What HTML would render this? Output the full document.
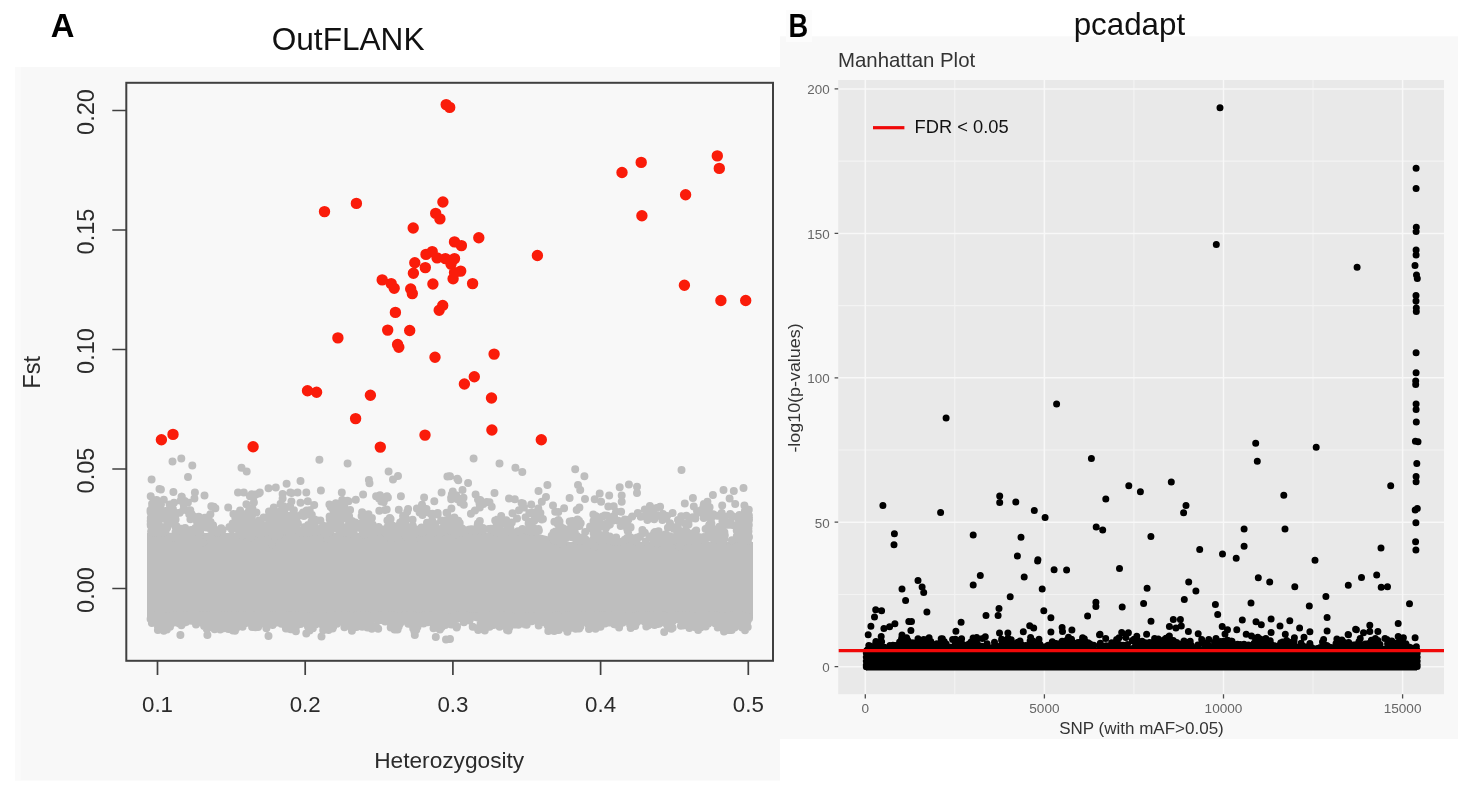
<!DOCTYPE html>
<html><head><meta charset="utf-8"><title>OutFLANK / pcadapt</title>
<style>
html,body{margin:0;padding:0;background:#fff}
body{width:1473px;height:791px;overflow:hidden}
svg{display:block;filter:blur(0.45px)}
text{font-family:"Liberation Sans",sans-serif}
</style></head><body>
<svg width="1473" height="791" viewBox="0 0 1473 791">
<rect width="1473" height="791" fill="#fff"/>
<rect x="15" y="67" width="765" height="713.6" fill="#f8f8f8"/>
<rect x="15" y="67" width="6" height="713.6" fill="#fafafa"/>
<rect x="780" y="36.3" width="678" height="702.6" fill="#f8f8f8"/>
<rect x="786" y="10" width="26" height="32" fill="#fcfcfc"/>
<g id="panelA">
<path d="M147 533L147 618L753 618L753 542L570 542L535 533Z" fill="#bebebe"/>
<path stroke="#bebebe" stroke-width="8" stroke-linecap="round" fill="none" d="M194.0 517.2h0M196.9 518.7h0M297.0 517.3h0M289.9 506.3h0M293.9 510.3h0M295.3 516.3h0M293.4 517.3h0M296.7 516.3h0M335.0 520.8h0M338.8 530.2h0M334.1 517.4h0M335.9 517.6h0M332.3 524.7h0M334.5 527.9h0M198.7 516.8h0M196.8 520.6h0M191.5 514.0h0M193.7 516.5h0M426.5 509.1h0M432.2 520.4h0M437.7 513.0h0M435.1 524.1h0M253.9 502.6h0M256.3 494.3h0M253.4 497.5h0M246.4 504.2h0M682.8 541.8h0M679.4 547.0h0M681.4 539.2h0M560.4 526.5h0M558.1 522.6h0M559.5 521.6h0M558.5 520.0h0M557.6 523.7h0M211.3 506.2h0M215.4 508.3h0M213.7 506.7h0M659.6 537.7h0M652.7 538.7h0M658.6 531.2h0M657.7 535.4h0M657.1 543.3h0M562.4 544.2h0M560.9 533.1h0M564.7 532.3h0M559.4 535.2h0M610.8 519.4h0M614.0 516.0h0M616.0 511.6h0M721.7 512.9h0M722.2 505.4h0M721.3 528.3h0M274.8 536.6h0M267.3 525.2h0M269.4 526.1h0M279.3 534.8h0M165.6 510.9h0M169.6 504.5h0M171.8 519.6h0M163.5 511.7h0M167.4 513.9h0M303.8 516.1h0M303.0 512.6h0M300.8 515.0h0M307.9 512.2h0M456.4 534.6h0M459.5 528.3h0M452.3 524.7h0M459.7 522.9h0M454.4 517.4h0M458.8 530.7h0M715.9 530.2h0M711.2 531.0h0M277.1 513.0h0M280.6 503.7h0M281.5 509.9h0M248.9 523.8h0M250.5 514.6h0M250.7 522.7h0M252.0 515.8h0M246.0 517.3h0M220.5 530.7h0M218.1 529.9h0M552.9 539.0h0M553.6 532.6h0M556.6 540.4h0M555.4 531.5h0M553.2 539.8h0M553.6 533.9h0M697.0 511.1h0M703.8 517.9h0M711.0 519.0h0M701.4 509.9h0M707.6 515.6h0M702.1 512.2h0M627.0 538.1h0M634.4 540.9h0M572.5 536.1h0M573.6 533.6h0M570.9 530.5h0M574.8 533.6h0M511.8 522.5h0M517.0 518.5h0M508.2 525.8h0M300.3 530.7h0M299.0 532.3h0M295.7 526.7h0M296.3 529.2h0M198.1 524.2h0M200.2 532.2h0M210.6 521.9h0M236.6 524.2h0M240.8 515.3h0M576.2 540.1h0M577.0 536.0h0M525.6 517.3h0M522.4 528.9h0M292.1 516.8h0M292.6 514.2h0M287.5 522.5h0M290.9 520.5h0M293.9 524.0h0M272.0 528.8h0M270.3 513.1h0M709.6 507.2h0M703.9 504.1h0M708.6 511.2h0M706.7 504.6h0M713.2 514.2h0M703.6 505.4h0M600.1 536.1h0M601.4 537.5h0M307.1 514.5h0M311.4 521.7h0M314.2 505.1h0M309.7 510.2h0M195.4 527.9h0M201.0 527.4h0M199.3 530.1h0M200.5 523.2h0M205.0 525.3h0M199.7 531.6h0M387.0 496.2h0M387.9 497.4h0M383.7 502.0h0M479.8 507.4h0M482.6 504.0h0M475.0 510.6h0M480.2 499.9h0M478.0 499.5h0M479.5 503.4h0M316.4 520.2h0M316.3 530.2h0M315.5 532.8h0M314.7 525.7h0M322.8 525.4h0M317.1 531.5h0M722.3 529.9h0M730.6 521.7h0M732.3 525.1h0M722.2 516.7h0M724.5 520.4h0M725.6 522.2h0M289.6 534.1h0M290.0 522.0h0M289.2 527.5h0M297.9 523.5h0M572.1 531.4h0M562.9 528.2h0M574.8 532.3h0M572.2 525.1h0M569.0 529.0h0M240.1 510.4h0M240.4 514.0h0M235.3 517.7h0M228.2 507.5h0M238.1 513.4h0M246.1 514.0h0M365.2 522.2h0M366.9 525.2h0M364.1 535.1h0M273.8 507.4h0M269.3 519.5h0M263.6 517.6h0M268.9 515.7h0M187.6 530.9h0M197.3 525.5h0M338.4 511.5h0M340.4 506.4h0M344.2 505.9h0M338.5 517.3h0M342.2 502.5h0M342.2 500.1h0M598.5 533.8h0M593.5 524.5h0M590.0 528.0h0M593.3 530.7h0M594.7 526.9h0M592.6 526.7h0M249.1 510.3h0M249.9 515.3h0M576.7 510.0h0M579.0 520.8h0M569.7 521.5h0M572.4 521.0h0M577.5 519.5h0M692.7 517.3h0M698.7 512.5h0M684.8 503.4h0M693.8 506.4h0M500.4 523.9h0M492.0 529.7h0M502.2 532.9h0M506.3 520.3h0M512.5 513.3h0M538.3 508.6h0M542.9 519.0h0M539.0 515.0h0M541.8 519.6h0M630.5 527.1h0M628.2 531.2h0M627.2 529.1h0M627.7 531.0h0M630.6 527.4h0M207.7 519.3h0M206.7 518.8h0M206.4 521.6h0M199.4 517.4h0M202.5 518.6h0M204.2 517.9h0M559.1 528.3h0M565.6 535.2h0M561.8 531.9h0M242.1 535.2h0M240.2 529.1h0M239.7 530.3h0M406.0 518.6h0M405.4 524.0h0M407.2 511.8h0M400.2 522.4h0M402.7 520.3h0M336.1 526.2h0M338.3 520.7h0M340.8 526.8h0M337.5 519.6h0M343.9 527.5h0M344.7 518.3h0M289.5 530.1h0M289.6 522.9h0M286.8 528.0h0M282.7 527.3h0M311.8 514.8h0M306.7 510.6h0M308.8 527.5h0M308.9 514.6h0M308.1 525.1h0M308.1 512.5h0M331.5 528.0h0M339.4 529.6h0M334.4 525.2h0M337.6 527.8h0M443.1 521.5h0M444.9 520.5h0M274.2 526.2h0M270.3 515.8h0M274.4 519.8h0M251.7 494.2h0M249.9 496.2h0M479.8 520.9h0M477.7 524.9h0M477.9 523.5h0M204.6 517.8h0M204.7 525.8h0M707.5 536.4h0M705.6 528.9h0M598.3 538.9h0M593.5 533.2h0M589.6 543.9h0M594.6 546.7h0M290.5 524.6h0M290.4 528.4h0M291.6 528.4h0M290.1 530.2h0M292.0 526.8h0M175.6 519.4h0M175.2 515.5h0M523.9 507.6h0M531.2 504.5h0M609.9 524.5h0M612.2 520.9h0M607.5 526.1h0M606.6 523.7h0M281.2 525.4h0M286.3 527.8h0M281.0 525.8h0M281.3 519.5h0M361.1 523.6h0M355.4 522.4h0M361.8 529.8h0M198.0 519.5h0M202.1 518.7h0M688.5 524.5h0M686.4 515.7h0M688.6 521.0h0M422.5 506.8h0M419.6 512.5h0M422.0 504.7h0M422.5 515.1h0M425.1 512.3h0M650.5 509.1h0M656.7 508.1h0M654.1 514.0h0M722.9 539.8h0M723.3 541.4h0M335.8 503.3h0M329.4 504.5h0M661.6 517.1h0M659.2 515.8h0M654.2 519.2h0M663.0 513.9h0M594.6 523.8h0M595.7 515.9h0M602.6 516.6h0M600.4 523.6h0M593.5 520.9h0M596.7 516.7h0M174.6 512.2h0M172.9 508.9h0M171.0 513.3h0M529.5 523.9h0M532.9 527.4h0M532.4 512.6h0M528.6 523.3h0M531.1 521.7h0M376.1 496.3h0M381.3 501.4h0M384.2 497.9h0M379.3 510.8h0M380.0 495.2h0M642.5 532.5h0M643.6 533.1h0M644.8 532.8h0M642.4 529.9h0M741.4 523.5h0M741.1 525.6h0M736.9 526.6h0M736.7 530.4h0M329.6 516.4h0M337.4 515.1h0M332.3 508.5h0M333.3 521.4h0M330.7 507.0h0M333.7 511.3h0M294.4 523.7h0M290.3 515.7h0M283.1 517.2h0M210.5 529.2h0M204.9 518.6h0M208.4 517.1h0M205.0 523.0h0M188.8 511.9h0M183.8 505.3h0M189.2 514.2h0M183.3 509.9h0M190.3 510.3h0M402.3 525.4h0M406.6 536.7h0M399.0 525.2h0M347.2 529.5h0M352.2 530.6h0M350.0 530.9h0M346.5 526.9h0M344.9 530.5h0M361.6 516.0h0M367.3 514.5h0M365.1 515.2h0M362.1 512.2h0M390.6 518.9h0M389.8 518.1h0M387.7 520.9h0M385.0 510.0h0M387.4 520.6h0M386.7 509.6h0M279.9 521.2h0M279.9 527.1h0M276.2 524.9h0M365.7 521.5h0M372.6 524.5h0M372.4 530.4h0M368.5 514.2h0M371.9 517.9h0M366.9 527.9h0M403.2 524.6h0M398.8 509.8h0M210.4 514.2h0M213.1 525.3h0M212.3 527.8h0M314.7 519.6h0M311.2 515.2h0M320.4 520.5h0M184.7 500.9h0M181.5 496.7h0M180.6 500.8h0M184.5 501.5h0M181.8 496.7h0M187.9 502.6h0M719.6 530.4h0M710.5 526.4h0M711.4 523.5h0M714.6 531.5h0M245.5 518.9h0M238.0 515.8h0M239.6 525.8h0M662.4 520.0h0M670.0 523.2h0M667.0 516.0h0M673.9 527.0h0M667.9 527.8h0M665.9 518.6h0M599.0 527.4h0M600.9 536.6h0M345.2 514.3h0M340.4 511.8h0M342.0 508.5h0M461.3 499.4h0M456.1 495.2h0M463.8 504.8h0M463.5 497.7h0M460.4 502.4h0M749.0 537.0h0M743.7 534.0h0M743.7 528.1h0M741.2 532.4h0M739.9 537.0h0M742.2 539.3h0M684.0 533.8h0M687.4 532.8h0M206.1 524.5h0M203.4 542.4h0M206.4 527.6h0M686.7 531.7h0M691.0 535.2h0M695.4 538.6h0M689.3 540.4h0M695.2 531.4h0M689.6 533.6h0M347.4 500.8h0M338.4 508.7h0M342.8 509.1h0M342.1 512.4h0M350.1 510.0h0M190.4 519.3h0M196.9 521.4h0M198.5 519.0h0M730.2 514.0h0M732.6 516.3h0M580.7 523.3h0M579.5 526.0h0M574.9 526.2h0M257.8 523.1h0M254.4 522.6h0M250.1 511.0h0M252.4 508.6h0M254.2 512.5h0M328.4 527.8h0M327.0 538.7h0M326.6 526.1h0M329.7 519.2h0M331.0 530.6h0M328.5 531.3h0M605.3 534.2h0M605.8 528.2h0M157.6 514.9h0M162.5 518.1h0M179.7 512.7h0M173.6 521.8h0M494.4 532.1h0M495.2 520.4h0M282.6 494.1h0M283.0 509.5h0M291.4 501.5h0M282.6 498.6h0M175.6 527.0h0M176.5 526.3h0M172.9 538.0h0M170.5 536.8h0M722.5 536.4h0M724.2 539.3h0M724.8 535.3h0M720.9 535.0h0M724.4 532.3h0M747.5 527.4h0M749.0 519.7h0M412.1 526.6h0M413.5 540.1h0M407.2 537.8h0M412.6 534.1h0M680.9 536.2h0M677.8 527.0h0M676.9 531.1h0M677.8 534.2h0M519.0 510.3h0M514.8 499.3h0M521.6 502.9h0M248.9 524.3h0M248.5 532.5h0M246.9 528.8h0M251.4 537.6h0M413.9 528.5h0M412.8 525.8h0M412.6 519.7h0M276.2 524.9h0M267.7 531.3h0M277.2 515.9h0M269.0 511.5h0M273.5 514.8h0M274.8 511.4h0M239.2 521.1h0M242.2 519.6h0M238.6 524.2h0M243.8 520.0h0M243.1 521.6h0M235.1 527.1h0M446.5 512.8h0M451.4 508.5h0M447.2 513.0h0M448.9 517.8h0M681.7 532.1h0M680.5 545.1h0M680.4 520.1h0M682.8 531.5h0M555.2 511.8h0M554.4 521.7h0M558.3 521.0h0M558.3 512.1h0M247.9 524.8h0M254.5 522.3h0M258.9 520.6h0M256.4 512.4h0M497.3 519.5h0M496.5 526.0h0M501.2 515.9h0M505.5 520.9h0M504.4 522.4h0M455.9 495.7h0M451.2 499.2h0M451.8 494.4h0M457.5 499.3h0M456.5 496.8h0M451.1 497.8h0M608.3 506.5h0M604.7 515.4h0M613.7 506.3h0M443.6 525.3h0M449.0 524.0h0M446.7 528.0h0M446.3 529.7h0M450.1 530.6h0M159.2 530.6h0M158.7 522.2h0M157.2 528.3h0M153.9 528.1h0M272.3 533.1h0M272.0 544.8h0M274.0 523.9h0M748.3 525.5h0M744.7 527.5h0M741.4 519.3h0M738.9 523.8h0M738.6 519.6h0M745.0 521.3h0M340.4 526.3h0M341.2 518.7h0M342.0 518.1h0M349.1 516.3h0M345.1 514.8h0M340.4 521.7h0M170.7 515.7h0M168.5 521.0h0M164.3 526.9h0M166.2 519.6h0M167.5 522.8h0M262.5 524.4h0M256.4 522.7h0M259.1 534.0h0M256.5 525.2h0M260.8 534.0h0M258.5 523.3h0M279.9 519.9h0M277.2 534.0h0M284.6 509.7h0M283.5 506.3h0M279.8 517.6h0M283.3 506.4h0M288.2 516.0h0M657.9 539.0h0M654.2 532.8h0M654.1 518.8h0M534.5 516.8h0M534.5 520.4h0M236.1 519.6h0M233.4 513.9h0M232.6 523.6h0M240.1 516.2h0M237.0 523.4h0M349.1 522.4h0M350.0 533.2h0M352.0 520.9h0M174.5 524.8h0M179.7 529.8h0M432.3 513.7h0M430.9 514.1h0M440.8 528.9h0M437.7 514.5h0M441.1 520.5h0M444.8 522.7h0M653.2 536.3h0M661.5 540.2h0M658.8 534.5h0M655.1 532.0h0M640.7 516.8h0M647.5 518.2h0M648.2 516.5h0M649.9 506.0h0M647.4 519.9h0M646.2 511.2h0M396.0 532.2h0M391.3 538.9h0M386.8 534.7h0M392.4 525.6h0M388.0 526.1h0M486.7 502.0h0M489.5 502.3h0M282.0 518.6h0M283.0 516.6h0M283.8 514.8h0M680.8 521.7h0M678.0 519.9h0M685.9 524.4h0M681.2 516.2h0M585.2 532.1h0M593.2 539.8h0M590.1 526.4h0M589.0 542.6h0M589.5 541.7h0M424.0 511.4h0M430.3 525.0h0M427.0 522.8h0M403.1 515.9h0M404.5 528.3h0M403.0 526.1h0M719.4 526.7h0M720.9 526.4h0M718.5 540.3h0M720.0 529.8h0M716.4 529.2h0M716.8 534.9h0M627.3 524.1h0M628.3 519.7h0M624.8 519.5h0M620.7 526.0h0M160.3 506.4h0M159.1 508.7h0M157.1 502.4h0M156.6 499.9h0M159.2 515.2h0M161.0 504.2h0M729.5 524.8h0M722.4 521.3h0M725.6 524.9h0M723.8 516.2h0M724.9 519.0h0M723.1 529.2h0M673.9 528.7h0M665.7 534.2h0M707.6 527.8h0M709.2 525.1h0M710.4 523.3h0M712.5 532.4h0M343.9 532.9h0M438.7 529.2h0M296.2 528.4h0M359.5 527.8h0M154.8 532.2h0M421.7 529.7h0M490.9 528.8h0M251.6 527.4h0M330.9 528.9h0M585.4 539.3h0M711.6 538.0h0M701.9 539.5h0M198.4 528.1h0M497.9 532.9h0M364.2 531.6h0M406.8 532.2h0M191.0 529.9h0M688.6 537.7h0M304.6 527.1h0M249.0 528.6h0M572.1 537.3h0M389.6 528.2h0M511.3 532.2h0M538.4 529.1h0M589.7 541.8h0M510.2 527.5h0M635.0 541.3h0M354.7 527.8h0M263.1 530.2h0M674.5 539.8h0M702.8 537.3h0M346.1 531.5h0M538.9 530.4h0M556.9 534.6h0M184.9 529.5h0M177.7 530.8h0M350.7 530.0h0M508.3 528.5h0M427.8 527.1h0M704.3 539.4h0M741.5 536.3h0M518.0 531.3h0M347.5 527.6h0M244.0 527.9h0M609.7 536.5h0M637.7 538.5h0M472.9 530.5h0M482.7 530.9h0M510.5 529.0h0M594.0 537.5h0M576.3 540.6h0M614.9 537.9h0M612.9 541.9h0M421.7 528.7h0M463.7 532.6h0M229.4 527.1h0M435.2 530.9h0M613.8 538.2h0M742.7 537.4h0M603.3 536.5h0M167.2 527.8h0M186.5 530.0h0M482.8 528.1h0M712.9 538.2h0M239.9 528.1h0M592.0 541.5h0M247.5 527.2h0M616.2 537.5h0M738.4 539.0h0M531.2 529.1h0M629.6 538.8h0M344.3 532.4h0M215.0 531.4h0M189.7 530.9h0M391.0 532.2h0M186.4 530.4h0M395.8 532.5h0M716.1 539.8h0M284.6 528.5h0M307.5 529.6h0M289.0 528.2h0M604.9 539.9h0M329.1 533.0h0M280.1 530.4h0M244.3 532.2h0M670.8 537.6h0M600.3 540.9h0M319.6 529.0h0M441.1 532.3h0M247.2 531.1h0M508.2 529.7h0M497.2 532.3h0M276.1 532.3h0M366.2 531.7h0M667.2 537.1h0M667.6 542.0h0M328.6 527.1h0M217.3 532.8h0M156.1 532.5h0M240.8 531.4h0M208.9 528.0h0M559.1 533.7h0M353.7 532.5h0M579.2 541.3h0M736.8 536.2h0M290.9 531.8h0M563.1 534.5h0M452.6 528.4h0M408.2 527.6h0M162.4 532.9h0M339.9 532.3h0M222.6 529.9h0M231.8 529.6h0M257.6 531.1h0M239.0 531.4h0M450.2 527.7h0M362.1 530.0h0M700.3 538.1h0M279.3 532.8h0M679.1 540.4h0M313.9 528.1h0M308.9 527.4h0M176.4 530.1h0M394.8 530.3h0M367.5 527.1h0M562.4 538.0h0M476.1 530.3h0M563.6 540.3h0M673.6 540.3h0M389.5 528.9h0M401.4 532.8h0M382.2 529.3h0M395.9 527.9h0M748.0 536.0h0M514.3 532.6h0M302.9 530.7h0M376.1 528.4h0M269.3 527.7h0M655.1 540.7h0M694.2 536.3h0M566.0 536.9h0M537.3 530.9h0M339.4 532.8h0M151.1 531.5h0M661.3 539.1h0M505.0 533.0h0M290.8 530.8h0M595.4 538.3h0M576.7 538.4h0M465.5 530.7h0M555.8 534.3h0M526.9 530.3h0M284.1 530.7h0M309.1 532.5h0M433.8 531.3h0M462.9 529.9h0M282.9 527.9h0M705.5 539.2h0M464.1 530.2h0M637.3 537.4h0M253.7 531.9h0M426.0 530.8h0M645.7 541.4h0M669.9 536.3h0M378.7 532.0h0M639.9 536.7h0M242.6 528.5h0M212.0 529.1h0M631.2 539.1h0M421.5 527.5h0M387.2 533.0h0M566.5 537.8h0M436.8 531.8h0M604.6 536.9h0M557.6 535.0h0M462.1 528.4h0M372.4 529.0h0M378.6 527.1h0M270.7 530.4h0M185.1 528.1h0M580.3 537.6h0M344.4 528.5h0M649.7 536.5h0M531.2 532.2h0M271.2 529.5h0M624.7 539.7h0M372.9 527.3h0M415.4 529.2h0M577.0 537.8h0M394.6 530.9h0M635.8 538.1h0M381.1 530.5h0M704.0 537.1h0M731.9 540.3h0M373.4 531.0h0M347.7 527.4h0M603.0 538.3h0M465.2 530.0h0M689.9 540.5h0M165.8 530.6h0M427.3 529.8h0M653.0 538.5h0M434.0 532.3h0M413.7 529.9h0M456.8 531.9h0M551.7 535.7h0M390.9 527.2h0M557.4 536.1h0M610.9 540.6h0M221.2 528.3h0M196.7 531.9h0M211.4 527.5h0M601.4 539.4h0M183.4 531.1h0M576.1 538.9h0M183.3 531.1h0M400.6 530.5h0M747.9 540.9h0M672.4 536.9h0M350.6 530.1h0M154.1 532.9h0M314.9 528.6h0M337.9 528.5h0M664.5 539.3h0M456.3 529.5h0M181.1 528.8h0M669.3 540.8h0M663.2 537.5h0M271.4 527.3h0M471.8 529.2h0M428.3 529.9h0M499.9 529.2h0M630.2 537.2h0M700.7 539.3h0M181.1 528.9h0M469.5 529.5h0M488.6 528.9h0M314.2 531.8h0M325.0 531.3h0M630.8 539.6h0M422.6 532.6h0M416.8 532.3h0M185.0 529.6h0M533.1 527.3h0M666.8 536.4h0M507.4 528.1h0M702.6 539.4h0M629.7 539.0h0M553.8 535.9h0M327.0 528.3h0M652.2 536.9h0M699.8 537.2h0M210.9 527.6h0M619.9 541.7h0M398.7 531.0h0M304.7 532.4h0M561.0 534.6h0M184.4 531.2h0M175.5 532.0h0M326.2 528.4h0M498.9 616.6h0M486.0 615.7h0M696.3 616.6h0M654.0 615.7h0M384.8 615.1h0M377.9 619.3h0M284.2 618.3h0M206.5 617.6h0M586.4 617.4h0M556.8 615.5h0M646.4 615.5h0M712.7 618.1h0M324.5 616.8h0M599.6 617.9h0M707.0 615.4h0M440.6 623.4h0M508.3 618.3h0M203.4 615.6h0M312.8 624.4h0M656.5 616.1h0M703.9 615.1h0M356.6 627.1h0M543.4 615.2h0M349.9 617.5h0M298.6 620.7h0M257.5 621.5h0M329.0 615.3h0M485.2 615.4h0M480.6 621.5h0M507.0 617.6h0M170.7 618.0h0M208.7 619.4h0M229.5 618.6h0M361.7 617.0h0M547.4 615.8h0M252.1 626.9h0M349.0 622.8h0M673.3 617.7h0M239.7 615.4h0M676.6 615.5h0M447.4 618.2h0M220.9 617.6h0M248.7 618.2h0M453.8 616.9h0M268.8 617.2h0M272.3 615.6h0M294.1 623.6h0M450.8 624.3h0M159.5 627.1h0M442.8 621.6h0M491.9 619.9h0M287.7 620.8h0M242.5 616.3h0M169.0 617.1h0M460.6 616.5h0M683.5 615.4h0M496.7 616.1h0M506.8 621.4h0M575.9 615.3h0M297.6 618.8h0M738.8 615.2h0M520.5 619.9h0M638.1 616.8h0M635.6 617.6h0M701.6 615.0h0M713.3 617.2h0M394.2 615.4h0M297.0 620.6h0M556.8 615.7h0M356.6 615.6h0M269.1 616.0h0M747.4 621.6h0M437.6 617.9h0M616.9 625.0h0M600.2 619.2h0M269.6 619.1h0M656.7 621.5h0M205.8 620.3h0M359.5 615.7h0M728.5 619.7h0M596.7 615.6h0M646.3 626.6h0M692.0 620.7h0M648.7 621.8h0M503.8 617.4h0M644.4 621.4h0M671.7 616.5h0M725.6 618.2h0M716.6 615.5h0M730.1 621.5h0M301.3 622.7h0M289.4 615.9h0M424.6 616.1h0M445.3 625.0h0M560.7 620.2h0M385.1 621.4h0M625.5 619.8h0M714.1 622.3h0M393.6 615.4h0M541.0 622.6h0M353.7 618.8h0M651.0 621.6h0M153.2 617.8h0M160.3 615.5h0M636.7 617.3h0M512.4 617.6h0M351.2 616.0h0M362.2 622.8h0M521.1 616.5h0M203.2 616.3h0M570.2 617.5h0M546.1 621.9h0M222.7 619.8h0M175.4 622.3h0M260.7 616.3h0M723.7 616.9h0M284.7 624.3h0M515.7 624.4h0M386.5 617.9h0M722.5 618.0h0M742.1 615.9h0M647.6 615.7h0M466.0 615.0h0M255.4 627.2h0M422.6 622.0h0M300.6 616.8h0M210.9 618.4h0M666.6 618.0h0M375.9 626.1h0M685.4 619.6h0M195.9 619.1h0M416.3 628.3h0M367.1 619.5h0M528.7 617.0h0M463.0 619.7h0M693.5 617.9h0M184.6 622.6h0M559.6 618.4h0M418.5 620.8h0M683.8 620.5h0M599.3 615.2h0M345.1 615.6h0M720.9 624.3h0M237.0 618.7h0M495.7 615.2h0M385.2 620.8h0M534.4 616.4h0M606.8 616.4h0M476.3 617.3h0M735.9 619.4h0M632.2 619.7h0M378.2 628.8h0M575.3 619.9h0M316.6 615.7h0M494.7 622.3h0M625.5 616.8h0M234.2 618.0h0M675.6 615.7h0M592.4 615.8h0M337.2 615.2h0M328.6 617.0h0M729.2 628.7h0M262.5 616.6h0M715.3 615.9h0M342.6 617.4h0M215.4 616.3h0M386.3 617.0h0M727.2 616.3h0M272.6 625.1h0M420.0 622.6h0M531.8 621.3h0M338.9 615.7h0M603.6 617.7h0M484.9 619.7h0M601.0 616.4h0M367.6 625.5h0M467.3 616.4h0M527.7 616.3h0M612.2 615.2h0M645.2 618.5h0M362.2 626.8h0M309.4 616.2h0M192.3 618.3h0M601.6 619.8h0M397.5 621.9h0M217.1 616.5h0M529.9 619.9h0M614.1 617.1h0M713.3 620.7h0M355.0 617.1h0M632.7 616.8h0M261.7 623.6h0M468.8 618.1h0M551.1 624.7h0M230.4 616.7h0M190.0 617.2h0M451.0 623.0h0M550.2 618.6h0M392.1 618.6h0M314.4 622.8h0M622.4 622.7h0M241.0 619.7h0M601.8 617.9h0M688.2 624.6h0M595.2 622.2h0M538.8 623.9h0M229.1 620.1h0M571.7 619.0h0M315.1 615.3h0M511.6 622.3h0M313.9 616.0h0M284.5 615.4h0M630.6 616.9h0M569.1 615.3h0M652.4 616.7h0M152.6 619.2h0M233.5 616.4h0M185.9 617.5h0M482.6 621.9h0M174.2 622.4h0M216.7 616.1h0M527.2 616.7h0M348.6 618.5h0M280.9 621.6h0M275.6 622.7h0M634.5 618.2h0M168.7 621.3h0M167.5 618.0h0M404.2 615.3h0M527.6 620.4h0M500.6 617.1h0M457.0 618.7h0M285.9 623.5h0M746.4 621.8h0M725.9 616.7h0M740.8 615.3h0M436.5 615.6h0M422.2 619.8h0M574.5 617.5h0M355.0 615.9h0M391.6 616.4h0M266.7 620.6h0M459.5 617.4h0M268.8 620.1h0M268.2 616.3h0M485.8 620.1h0M732.8 620.8h0M718.1 625.6h0M582.9 620.3h0M188.0 616.0h0M158.3 623.4h0M582.6 619.2h0M308.4 616.8h0M248.4 619.2h0M743.9 616.5h0M177.0 615.8h0M363.1 624.6h0M632.0 617.5h0M211.6 615.5h0M242.6 621.3h0M696.2 621.7h0M435.5 622.2h0M227.3 615.5h0M487.7 618.0h0M275.8 616.2h0M163.2 625.1h0M575.6 627.2h0M737.4 617.4h0M588.8 617.0h0M636.4 622.7h0M230.6 615.1h0M278.6 618.7h0M377.3 615.0h0M647.4 621.5h0M428.0 615.2h0M682.6 618.2h0M193.0 616.6h0M524.3 624.1h0M440.5 619.3h0M273.6 616.2h0M692.6 617.0h0M212.8 618.8h0M226.1 615.9h0M423.7 618.7h0M531.4 620.2h0M413.6 615.3h0M584.1 615.2h0M432.2 617.1h0M553.2 620.3h0M294.0 619.4h0M564.7 617.7h0M235.4 625.1h0M509.0 615.3h0M287.4 617.1h0M622.1 622.3h0M529.9 620.7h0M173.4 615.4h0M734.7 621.8h0M173.3 615.2h0M294.4 626.2h0M281.9 619.7h0M707.3 619.3h0M700.7 616.3h0M242.3 615.1h0M603.6 615.5h0M732.9 620.2h0M262.4 621.9h0M247.9 618.0h0M213.8 621.5h0M683.0 625.4h0M151.9 623.0h0M483.2 622.2h0M451.2 619.1h0M506.3 621.7h0M197.0 615.2h0M477.0 616.4h0M388.1 615.0h0M596.4 615.1h0M647.1 622.0h0M424.6 615.5h0M539.6 616.0h0M407.3 615.5h0M734.9 618.3h0M361.5 615.4h0M587.5 623.0h0M658.2 615.4h0M370.5 616.5h0M606.8 615.7h0M610.6 615.0h0M195.4 615.5h0M564.9 618.8h0M461.8 617.6h0M394.3 619.0h0M538.7 625.4h0M589.0 621.7h0M696.9 622.6h0M579.4 615.1h0M558.0 623.0h0M408.3 623.8h0M258.1 627.0h0M414.9 620.1h0M301.7 616.5h0M359.1 616.6h0M207.2 617.5h0M737.6 619.5h0M708.4 621.0h0M601.0 616.3h0M300.0 617.2h0M163.0 616.1h0M680.9 625.7h0M347.2 621.2h0M614.3 624.3h0M626.1 618.2h0M213.3 622.3h0M338.2 619.1h0M370.2 618.2h0M728.4 615.7h0M468.3 619.4h0M472.7 626.7h0M394.4 625.3h0M204.1 616.0h0M322.5 625.0h0M158.7 616.3h0M256.0 617.4h0M561.6 619.9h0M597.0 620.9h0M299.2 616.2h0M167.1 619.9h0M275.7 616.3h0M727.6 619.3h0M504.3 619.5h0M508.3 620.0h0M332.4 615.3h0M190.5 615.1h0M366.9 615.6h0M218.0 617.9h0M730.8 619.9h0M314.2 621.2h0M257.0 615.4h0M331.9 617.2h0M563.2 617.5h0M586.4 615.4h0M708.5 616.8h0M648.6 615.1h0M646.5 616.1h0M662.2 621.8h0M551.9 616.4h0M156.4 615.9h0M692.1 615.7h0M545.1 618.7h0M546.2 615.8h0M236.5 615.4h0M738.6 617.0h0M540.9 618.5h0M284.1 615.3h0M159.4 623.0h0M228.3 628.9h0M368.1 620.4h0M233.3 621.5h0M301.1 616.9h0M463.5 615.5h0M299.1 621.7h0M321.2 617.0h0M608.2 616.1h0M266.6 616.0h0M380.4 616.9h0M534.4 617.7h0M671.0 615.2h0M547.7 622.6h0M291.0 615.1h0M412.8 615.5h0M425.8 620.2h0M206.6 615.5h0M437.5 615.8h0M288.6 617.4h0M221.3 615.3h0M366.6 617.7h0M711.0 618.4h0M193.3 616.1h0M595.9 618.5h0M671.3 628.8h0M664.0 615.5h0M715.3 618.1h0M294.0 615.8h0M668.0 616.0h0M200.2 616.3h0M703.6 617.6h0M588.2 615.3h0M421.6 616.6h0M273.4 619.6h0M366.7 615.5h0M739.5 617.8h0M258.2 615.0h0M541.3 618.0h0M165.1 617.7h0M593.7 618.2h0M290.6 617.9h0M512.5 619.4h0M237.3 621.8h0M716.4 620.7h0M663.6 616.9h0M690.8 615.8h0M286.3 618.8h0M690.1 615.4h0M280.4 615.2h0M413.3 615.6h0M265.1 620.8h0M499.6 626.8h0M391.1 619.8h0M158.0 627.4h0M290.0 617.7h0M456.7 627.4h0M522.3 616.0h0M649.6 615.9h0M748.7 617.6h0M285.9 628.6h0M343.1 617.2h0M355.9 619.6h0M164.2 617.0h0M247.5 622.4h0M150.6 618.9h0M304.8 617.5h0M486.8 620.2h0M232.9 616.2h0M222.6 628.5h0M239.8 615.6h0M463.0 618.7h0M681.1 615.2h0M290.7 615.8h0M501.0 617.5h0M395.2 624.2h0M546.5 623.3h0M723.2 616.3h0M714.3 617.2h0M181.4 625.3h0M212.8 615.1h0M323.8 616.4h0M729.2 623.6h0M401.9 618.2h0M658.5 621.9h0M541.6 618.0h0M220.3 616.2h0M544.4 618.7h0M629.9 624.6h0M726.5 615.9h0M196.0 624.6h0M491.8 615.8h0M564.7 616.2h0M292.1 616.9h0M464.0 619.8h0M194.4 620.7h0M524.1 617.7h0M552.8 621.8h0M156.3 617.7h0M556.2 620.2h0M538.0 615.8h0M724.2 621.5h0M289.9 617.4h0M723.8 616.0h0M395.4 628.7h0M689.2 616.1h0M590.6 616.9h0M547.5 621.1h0M226.8 616.1h0M279.1 616.3h0M171.8 615.6h0M393.6 617.3h0M197.1 618.7h0M714.5 618.6h0M363.4 620.1h0M412.2 615.8h0M438.8 615.1h0M555.1 615.7h0M371.8 628.8h0M609.4 622.6h0M534.8 619.2h0M268.0 621.1h0M330.6 616.2h0M642.2 618.9h0M659.0 623.7h0M502.9 615.9h0M159.5 618.2h0M584.8 616.3h0M192.4 615.0h0M254.2 620.0h0M152.9 616.1h0M309.2 620.2h0M741.3 615.1h0M218.9 626.5h0M731.0 615.7h0M351.2 618.1h0M342.1 617.3h0M437.1 616.3h0M183.4 615.4h0M247.7 615.4h0M524.0 620.0h0M307.9 621.6h0M586.7 616.8h0M444.8 615.9h0M706.5 618.5h0M181.2 615.7h0M565.0 617.0h0M579.6 616.1h0M627.6 621.8h0M206.9 618.7h0M265.0 620.2h0M631.7 621.6h0M288.9 615.4h0M547.6 618.5h0M233.2 615.9h0M499.1 615.5h0M529.9 616.2h0M305.2 617.3h0M469.6 620.4h0M169.0 620.4h0M282.8 616.4h0M533.4 619.9h0M518.4 624.7h0M273.0 616.6h0M547.0 616.3h0M244.7 616.1h0M612.1 622.4h0M579.2 628.4h0M625.9 616.6h0M339.3 620.4h0M183.8 618.9h0M203.8 615.2h0M458.0 615.7h0M708.1 623.8h0M426.9 615.9h0M222.1 618.0h0M462.5 616.9h0M579.2 618.2h0M614.6 615.5h0M192.4 617.1h0M439.9 616.2h0M550.6 616.1h0M341.0 617.7h0M576.8 621.2h0M372.9 617.5h0M705.7 626.4h0M520.8 615.5h0M423.3 619.3h0M317.2 615.2h0M737.7 625.1h0M227.7 617.6h0M521.2 616.5h0M191.5 620.8h0M611.8 617.4h0M201.8 617.1h0M206.8 628.9h0M181.2 616.4h0M610.1 615.6h0M214.3 615.3h0M248.6 618.2h0M649.1 615.8h0M254.4 621.1h0M405.3 616.7h0M224.3 616.2h0M732.1 615.5h0M305.9 620.7h0M684.2 624.9h0M433.5 628.2h0M512.0 616.4h0M428.9 620.3h0M589.8 615.6h0M266.4 628.3h0M214.5 622.1h0M353.3 616.2h0M303.2 617.7h0M743.4 615.7h0M661.9 616.6h0M253.9 620.7h0M354.9 615.9h0M400.9 622.2h0M667.0 618.6h0M156.7 621.1h0M513.5 624.6h0M720.3 616.7h0M658.3 622.2h0M309.7 616.9h0M374.7 616.8h0M376.9 615.5h0M286.4 625.1h0M396.2 619.2h0M681.5 620.9h0M296.8 625.6h0M586.2 620.9h0M637.1 616.2h0M543.1 617.0h0M653.1 615.6h0M473.2 616.7h0M641.6 616.8h0M655.6 622.9h0M676.5 615.6h0M712.0 620.7h0M555.6 619.4h0M179.2 623.6h0M478.3 617.6h0M353.6 621.4h0M618.7 623.6h0M278.7 616.7h0M299.7 615.4h0M346.3 615.1h0M627.2 616.1h0M192.8 615.3h0M594.1 615.9h0M427.0 617.2h0M630.7 627.9h0M336.0 619.2h0M686.0 617.7h0M688.9 620.6h0M336.9 623.7h0M493.6 615.5h0M502.1 622.4h0M460.8 617.8h0M399.7 623.9h0M548.8 616.0h0M367.4 616.9h0M724.3 620.0h0M225.2 625.3h0M171.4 618.8h0M409.3 620.3h0M407.4 615.4h0M463.9 622.2h0M622.6 616.9h0M283.6 620.7h0M630.3 616.0h0M409.9 617.0h0M575.3 626.2h0M271.2 616.5h0M347.4 620.5h0M262.3 618.3h0M449.9 619.6h0M236.2 628.2h0M749.0 618.5h0M626.4 615.9h0M695.3 618.4h0M605.1 623.5h0M367.0 625.8h0M274.6 615.1h0M451.2 624.6h0M689.4 628.0h0M456.2 626.3h0M485.6 615.7h0M528.2 621.8h0M404.2 618.9h0M305.6 616.4h0M402.0 618.0h0M430.8 615.4h0M153.9 616.7h0M579.6 620.8h0M292.4 616.2h0M459.7 615.8h0M511.3 624.8h0M271.4 618.7h0M581.9 620.8h0M576.7 620.2h0M313.6 622.7h0M704.2 615.2h0M715.6 617.5h0M202.2 615.3h0M627.4 619.8h0M235.6 617.6h0M351.6 621.1h0M297.2 615.9h0M247.0 617.2h0M520.5 616.5h0M247.4 616.0h0M201.4 615.9h0M339.5 617.9h0M260.4 617.7h0M441.5 627.2h0M432.6 615.9h0M504.8 615.7h0M251.8 615.3h0M391.9 616.8h0M405.0 616.8h0M563.9 617.1h0M241.7 623.4h0M493.2 615.0h0M658.9 620.5h0M362.7 619.2h0M701.3 617.2h0M409.4 616.5h0M482.2 619.6h0M590.4 627.5h0M237.5 616.9h0M660.2 621.6h0M503.6 619.7h0M354.0 627.2h0M479.3 617.2h0M259.7 615.5h0M687.7 621.8h0M166.5 616.6h0M437.6 617.9h0M368.0 624.5h0M359.9 618.2h0M706.7 619.3h0M435.9 616.7h0M382.2 618.9h0M620.9 616.3h0M372.2 617.1h0M367.7 625.3h0M473.1 616.4h0M349.4 622.2h0M246.4 619.9h0M163.5 615.9h0M186.1 621.9h0M238.4 616.1h0M185.0 616.3h0M589.5 620.3h0M695.3 627.3h0M480.2 625.7h0M204.1 625.9h0M410.3 615.9h0M598.2 623.2h0M381.4 615.4h0M672.9 620.9h0M173.3 615.2h0M224.9 615.1h0M574.4 619.2h0M217.7 615.7h0M258.8 618.9h0M410.5 617.1h0M302.1 616.1h0M573.0 615.8h0M258.2 615.7h0M360.6 620.6h0M185.8 618.2h0M557.9 615.1h0M413.6 621.6h0M495.0 617.5h0M678.0 618.9h0M352.2 617.1h0M715.1 623.2h0M698.0 618.5h0M235.8 615.8h0M379.9 619.9h0M153.3 621.8h0M620.9 618.0h0M153.9 621.7h0M398.3 619.6h0M491.6 620.5h0M395.2 628.5h0M722.4 626.1h0M518.7 616.6h0M375.9 616.3h0M691.4 621.6h0M622.2 622.2h0M743.5 619.9h0M341.0 621.0h0M307.5 619.0h0M245.3 623.2h0M443.0 616.4h0M702.9 615.4h0M707.2 620.9h0M239.7 621.0h0M493.6 625.0h0M501.5 617.3h0M709.1 615.4h0M615.6 615.5h0M316.1 615.5h0M672.0 617.4h0M585.2 616.2h0M587.6 619.4h0M208.9 617.9h0M582.5 616.0h0M542.1 616.4h0M372.3 625.6h0M405.9 618.6h0M634.4 621.0h0M423.5 623.4h0M390.7 627.6h0M433.5 615.5h0M598.8 615.7h0M557.2 615.2h0M742.0 618.3h0M593.6 615.6h0M531.7 617.0h0M299.6 622.1h0M170.4 617.7h0M202.5 623.0h0M685.1 615.1h0M428.5 617.7h0M580.6 620.5h0M355.9 626.3h0M261.4 615.6h0M638.1 615.5h0M261.8 617.9h0M351.8 615.8h0M707.1 617.7h0M620.8 616.2h0M696.7 616.0h0M693.0 619.0h0M731.7 621.2h0M528.0 618.2h0M662.1 617.5h0M209.4 625.3h0M632.6 619.8h0M596.2 616.1h0M427.8 622.3h0M726.3 625.8h0M246.6 619.8h0M482.1 617.2h0M250.9 615.6h0M432.0 617.9h0M310.8 616.9h0M482.1 621.0h0M503.2 615.7h0M680.8 616.9h0M234.5 618.7h0M729.1 617.0h0M478.2 616.6h0M167.7 616.0h0M224.7 616.4h0M527.2 618.5h0M718.0 619.9h0M367.3 627.5h0M530.0 618.3h0M666.7 619.7h0M366.2 618.9h0M189.0 615.0h0M481.6 616.0h0M454.2 615.5h0M651.3 619.6h0M560.0 626.0h0M744.3 619.8h0M577.3 615.0h0M180.0 617.3h0M730.5 616.6h0M490.7 615.0h0M399.3 624.8h0M503.3 622.3h0M158.3 616.0h0M257.8 622.5h0M211.3 626.3h0M310.6 623.9h0M459.1 616.6h0M728.9 617.2h0M567.9 615.3h0M216.6 620.8h0M312.3 615.7h0M368.5 619.6h0M745.2 619.1h0M541.6 615.7h0M585.1 618.4h0M365.4 624.7h0M303.2 615.6h0M245.2 615.7h0M502.7 621.8h0M246.3 617.9h0M494.3 618.5h0M397.5 618.3h0M159.5 615.3h0M403.5 616.1h0M603.5 616.2h0M643.6 616.2h0M205.9 617.7h0M382.4 616.7h0M608.4 616.1h0M551.5 622.6h0M421.4 617.9h0M703.3 618.9h0M258.8 615.3h0M199.7 616.7h0M203.7 619.4h0M404.0 616.5h0M457.0 626.6h0M296.8 615.7h0M333.2 616.6h0M695.1 620.1h0M407.2 615.8h0M177.7 615.5h0M657.7 619.4h0M244.2 619.1h0M185.4 618.0h0M351.2 615.5h0M594.9 620.3h0M456.1 615.8h0M551.3 617.4h0M546.2 615.4h0M690.7 615.0h0M283.8 617.1h0M269.2 615.4h0M351.0 616.3h0M551.9 616.1h0M390.4 619.9h0M408.3 615.7h0M192.7 618.3h0M743.4 625.6h0M210.3 617.9h0M442.8 615.9h0M551.4 617.9h0M634.6 616.4h0M709.4 622.1h0M433.9 615.6h0M440.0 615.6h0M560.9 620.0h0M177.6 620.3h0M629.8 615.5h0M343.2 615.2h0M499.4 620.4h0M358.8 620.0h0M370.0 620.2h0M412.6 615.0h0M205.2 620.4h0M668.0 619.3h0M243.5 623.6h0M579.5 615.5h0M378.3 619.7h0M152.7 615.2h0M362.1 623.7h0M746.8 616.6h0M694.5 621.5h0M668.3 618.7h0M730.7 619.3h0M717.8 618.5h0M268.1 618.1h0M439.6 616.7h0M374.2 618.0h0M502.4 616.1h0M316.5 617.9h0M452.1 617.3h0M548.0 615.9h0M468.8 616.4h0M611.4 620.1h0M617.5 619.0h0M621.1 621.8h0M617.1 624.3h0M619.1 627.4h0M440.0 619.0h0M441.3 621.5h0M437.9 624.0h0M441.7 627.1h0M439.9 629.4h0M557.8 619.0h0M554.9 622.0h0M555.6 624.6h0M556.9 626.6h0M727.6 619.0h0M727.6 621.3h0M728.7 624.5h0M726.5 627.6h0M728.2 630.0h0M578.3 619.0h0M573.8 621.7h0M574.7 624.3h0M580.4 626.6h0M575.7 628.8h0M353.1 619.0h0M348.6 622.3h0M350.0 625.5h0M352.1 628.1h0M351.9 630.7h0M508.4 619.0h0M507.0 621.6h0M504.9 623.6h0M508.7 626.1h0M526.6 619.0h0M524.5 621.9h0M525.2 624.4h0M294.1 619.0h0M290.9 621.9h0M291.5 624.3h0M289.5 627.3h0M277.7 619.0h0M276.6 621.6h0M281.4 623.8h0M295.4 619.0h0M297.4 621.6h0M296.1 623.6h0M292.5 626.0h0M290.6 629.2h0M295.9 631.3h0M288.3 619.0h0M284.8 621.8h0M288.0 624.4h0M287.1 626.8h0M416.0 619.0h0M415.5 621.3h0M415.1 623.3h0M414.9 625.9h0M413.2 628.5h0M414.4 631.6h0M735.3 619.0h0M737.0 621.6h0M738.0 624.8h0M355.1 619.0h0M351.8 621.8h0M352.6 625.3h0M353.7 627.8h0M348.8 619.0h0M346.3 622.3h0M348.6 625.7h0M390.4 619.0h0M389.6 621.7h0M391.9 624.3h0M650.6 619.0h0M648.9 622.1h0M648.0 625.5h0M553.7 619.0h0M554.9 621.3h0M554.3 624.2h0M553.6 627.2h0M516.0 619.0h0M517.3 621.8h0M515.2 624.0h0M336.2 619.0h0M333.9 621.8h0M334.1 624.7h0M333.2 627.0h0M601.9 619.0h0M603.8 621.7h0M600.3 624.7h0M600.5 626.8h0M731.1 619.0h0M731.9 621.4h0M730.5 624.6h0M734.7 627.4h0M731.7 630.1h0M563.0 619.0h0M561.5 622.3h0M563.8 624.9h0M562.6 627.0h0M524.7 619.0h0M525.1 621.4h0M526.7 624.8h0M412.5 619.0h0M417.0 621.4h0M413.1 624.5h0M417.4 626.9h0M416.3 629.7h0M665.2 619.0h0M664.0 622.2h0M667.1 624.9h0M599.7 619.0h0M595.4 621.4h0M594.4 623.7h0M597.4 626.0h0M595.5 628.8h0M167.7 619.0h0M164.6 621.5h0M166.3 623.9h0M170.0 626.8h0M166.9 629.4h0M433.1 619.0h0M434.0 622.2h0M435.6 624.7h0M434.3 627.9h0M440.2 619.0h0M439.9 621.9h0M441.2 623.9h0M439.4 627.1h0M513.5 619.0h0M510.7 621.2h0M509.2 624.5h0M509.2 627.7h0M550.7 619.0h0M554.6 621.3h0M554.3 624.0h0M553.9 626.3h0M556.5 628.9h0M554.2 631.1h0M437.0 619.0h0M432.1 621.7h0M435.1 623.7h0M435.3 627.1h0M492.1 619.0h0M492.0 621.3h0M490.3 624.4h0M489.6 626.8h0M437.0 619.0h0M437.7 622.0h0M588.0 619.0h0M589.3 622.3h0M588.5 624.6h0M301.4 619.0h0M302.7 621.5h0M300.6 624.1h0M222.0 619.0h0M219.6 621.0h0M220.7 624.1h0M748.1 619.0h0M746.1 621.6h0M744.4 625.0h0M717.8 619.0h0M714.4 621.7h0M718.0 624.9h0M717.7 627.6h0M396.5 619.0h0M393.0 621.8h0M395.5 624.2h0M395.4 627.0h0M394.5 629.6h0M733.5 619.0h0M733.4 622.3h0M229.5 619.0h0M227.5 621.3h0M228.8 624.3h0M228.1 626.3h0M345.3 619.0h0M346.4 622.0h0M346.0 624.4h0M344.4 627.3h0M224.3 619.0h0M222.4 621.0h0M220.2 624.1h0M221.6 626.7h0M220.2 629.5h0M331.3 619.0h0M329.8 621.6h0M331.3 625.0h0M329.0 627.5h0M328.5 630.1h0M319.8 619.0h0M318.6 622.3h0M315.6 624.6h0M244.0 619.0h0M246.1 621.6h0M241.7 624.0h0M242.6 626.8h0M697.9 619.0h0M697.6 621.9h0M697.2 625.3h0M333.3 619.0h0M331.9 621.2h0M332.6 623.9h0M331.8 626.2h0M332.6 628.4h0M234.2 619.0h0M233.6 621.6h0M234.8 624.9h0M233.6 627.0h0M232.9 630.4h0M508.7 619.0h0M508.5 622.0h0M508.0 624.9h0M506.9 627.7h0M507.0 629.9h0M330.7 619.0h0M332.7 622.0h0M331.7 624.7h0M218.0 619.0h0M220.4 621.6h0M221.5 624.2h0M219.7 627.7h0M742.0 619.0h0M745.1 621.9h0M744.5 624.2h0M742.1 627.4h0M745.0 630.3h0M308.0 619.0h0M304.0 621.3h0M307.0 623.4h0M307.9 626.4h0M562.8 619.0h0M563.2 621.3h0M561.3 623.9h0M566.0 619.0h0M565.6 621.9h0M568.4 624.6h0M570.5 628.1h0M744.2 619.0h0M742.6 622.1h0M746.4 625.2h0M310.4 619.0h0M310.9 621.7h0M312.9 624.9h0M312.9 628.2h0M309.6 630.4h0M490.1 619.0h0M491.2 621.2h0M491.0 624.3h0M661.0 619.0h0M657.7 621.4h0M658.1 624.1h0M159.5 619.0h0M159.6 622.4h0M159.5 624.8h0M159.9 626.9h0M157.9 630.0h0M322.0 619.0h0M326.2 621.6h0M322.7 623.7h0M325.4 627.0h0M323.2 630.2h0M480.8 619.0h0M481.3 621.4h0M480.6 624.0h0M482.0 626.9h0M478.2 630.0h0M634.7 619.0h0M637.6 621.5h0M635.6 623.6h0M635.2 626.1h0M543.3 619.0h0M545.2 622.2h0M547.5 625.3h0M548.6 627.8h0M548.3 631.0h0M560.1 619.0h0M560.1 621.7h0M564.6 624.2h0M557.8 626.9h0M558.8 630.1h0M255.3 619.0h0M257.8 621.7h0M256.2 624.3h0M398.9 619.0h0M396.4 621.4h0M396.9 623.8h0M398.6 626.8h0M397.6 629.5h0M274.7 619.0h0M273.2 621.0h0M273.0 623.7h0M568.9 619.0h0M566.0 621.9h0M566.9 623.9h0M568.7 626.8h0M566.3 628.9h0M567.4 631.7h0M213.6 619.0h0M210.8 621.2h0M216.1 624.1h0M209.5 627.2h0M214.6 629.3h0M698.7 619.0h0M700.4 622.3h0M702.5 624.9h0M700.5 627.4h0M698.2 629.9h0M152.4 518.3h0M748.8 525.0h0M152.5 503.8h0M747.9 524.6h0M152.0 529.2h0M748.2 522.3h0M151.8 517.4h0M748.4 536.4h0M150.5 511.7h0M748.8 509.8h0M152.1 503.8h0M748.3 532.0h0M151.0 513.3h0M747.5 529.1h0M151.6 519.4h0M747.7 525.6h0M152.4 524.0h0M748.9 515.4h0M151.5 513.4h0M747.7 532.1h0M150.8 518.1h0M748.5 536.1h0M150.5 510.3h0M748.0 536.1h0M150.8 525.7h0M747.8 524.4h0M152.4 504.7h0M747.7 512.7h0M150.8 511.2h0M748.4 525.4h0M150.7 524.6h0M748.0 512.3h0M152.1 525.2h0M747.4 536.2h0M152.1 509.2h0M747.0 534.0h0M152.2 505.6h0M748.5 531.2h0M151.8 525.5h0M749.0 517.8h0M152.2 527.9h0M747.6 528.5h0M151.9 525.9h0M748.1 516.3h0M151.0 517.7h0M747.3 533.8h0M152.3 509.5h0M748.4 528.2h0M150.7 524.0h0M748.5 517.2h0M150.7 510.6h0M748.5 522.0h0M152.1 507.3h0M747.2 518.5h0M152.3 507.4h0M747.1 530.6h0M150.7 521.0h0M747.2 515.4h0M151.8 526.6h0M747.8 521.5h0M473.6 458.6h0M499.5 463.6h0M515.4 467.8h0M522.3 472.0h0M575.2 469.2h0M584.4 476.2h0M681.5 470.0h0M547.4 485.0h0M538.5 490.9h0M578.0 485.0h0M580.2 490.0h0M619.7 487.3h0M628.9 484.5h0M637.0 486.7h0M637.0 492.9h0M621.7 495.6h0M621.7 501.8h0M599.7 493.4h0M609.2 495.6h0M594.7 499.3h0M601.1 501.8h0M585.0 499.0h0M569.6 497.9h0M579.4 507.6h0M564.1 508.2h0M553.0 505.4h0M546.0 497.0h0M541.8 501.8h0M522.9 503.4h0M509.0 498.4h0M494.5 492.9h0M475.6 494.5h0M468.1 483.1h0M458.3 480.3h0M450.0 476.2h0M462.5 490.0h0M452.8 491.5h0M491.7 506.8h0M483.4 504.0h0M529.3 512.9h0M540.4 512.9h0M692.9 497.9h0M707.4 501.8h0M712.9 495.1h0M723.5 490.1h0M733.8 490.9h0M743.5 487.9h0M729.6 498.4h0M735.2 504.0h0M744.4 505.4h0M744.9 511.0h0M739.4 515.1h0M717.1 515.7h0M695.4 518.5h0M686.0 523.5h0M696.2 530.4h0M672.6 512.9h0M660.1 506.8h0M651.7 508.2h0M644.8 509.6h0M637.8 512.9h0M632.2 516.5h0M621.1 511.8h0M618.3 520.7h0M607.2 515.7h0M593.3 514.6h0M458.3 520.7h0M470.9 513.7h0M450.0 639.0h0M484.8 630.6h0M508.4 630.6h0M553.8 628.6h0M589.0 629.0h0M664.2 632.0h0M672.6 627.8h0M724.0 631.4h0M747.7 627.0h0M654.5 625.0h0M172.5 461.4h0M181.3 458.5h0M192.3 465.5h0M151.6 479.4h0M188.0 477.1h0M241.5 467.8h0M246.7 471.6h0M319.4 459.7h0M347.6 463.4h0M388.6 471.6h0M398.0 476.0h0M393.0 479.4h0M369.5 483.2h0M300.5 480.9h0M286.6 483.8h0M447.4 476.5h0M268.5 488.2h0M275.8 487.6h0M320.9 490.5h0M341.8 492.5h0M400.9 496.3h0M424.1 497.5h0M441.6 492.5h0M379.0 498.4h0M384.9 498.9h0M363.1 494.6h0M355.8 499.8h0M348.5 501.3h0M333.1 506.2h0M306.3 492.5h0M297.6 492.5h0M290.3 492.5h0M259.8 492.5h0M238.0 492.5h0M243.8 492.5h0M204.5 495.4h0M194.9 492.5h0M173.4 492.0h0M160.9 489.6h0M150.7 496.3h0M163.8 499.8h0M174.0 502.7h0M194.4 498.4h0M290.3 507.1h0M300.5 502.7h0M307.8 501.3h0M434.3 501.3h0M416.9 508.5h0M408.1 509.1h0M180.4 635.0h0M207.4 635.0h0M268.5 636.0h0M321.5 636.5h0M414.8 635.0h0M435.8 637.0h0M163.8 630.7h0M235.0 630.7h0M306.3 633.6h0M446.0 639.4h0M448.7 476.3h0M457.3 478.8h0M368.9 480.0h0M159.5 489.1h0M258.7 493.6h0M291.6 492.9h0"/>
<path stroke="#fa1c0a" stroke-width="11.4" stroke-linecap="round" fill="none" d="M356.4 203.4h0M442.9 202.0h0M435.7 213.4h0M439.9 218.9h0M413.2 228.0h0M478.8 237.7h0M454.5 241.9h0M461.4 245.6h0M432.2 251.6h0M426.0 254.4h0M437.1 257.9h0M445.4 258.6h0M454.5 258.6h0M414.8 262.8h0M451.0 264.1h0M425.3 267.6h0M413.4 273.2h0M460.7 271.1h0M454.5 272.5h0M453.1 278.7h0M382.2 279.9h0M391.2 283.6h0M432.9 284.0h0M472.6 283.6h0M410.7 289.0h0M394.2 288.3h0M412.3 293.6h0M439.2 310.3h0M442.7 305.5h0M395.4 312.4h0M387.7 330.1h0M409.7 330.5h0M337.9 337.9h0M397.6 344.5h0M398.8 347.2h0M435.0 357.3h0M494.1 354.1h0M474.3 376.8h0M464.4 384.0h0M307.5 390.8h0M316.6 392.3h0M370.4 395.2h0M355.6 418.6h0M380.3 447.1h0M425.0 435.1h0M491.5 398.0h0M491.9 430.0h0M541.3 439.8h0M324.5 211.6h0M161.4 439.8h0M173.0 434.4h0M253.1 446.8h0M622.0 172.5h0M641.2 162.4h0M717.3 155.9h0M719.3 168.4h0M685.6 194.8h0M641.9 215.7h0M684.4 285.3h0M720.9 300.5h0M745.7 300.5h0M537.4 255.5h0M446.2 104.6h0M449.7 107.4h0"/>
<rect x="126.3" y="82.8" width="646.7" height="578" fill="none" stroke="#404040" stroke-width="2"/>
<path d="M157.5 661v14M305.2 661v14M452.9 661v14M600.6 661v14M748.3 661v14M126.3 110.5h-14M126.3 230.0h-14M126.3 349.5h-14M126.3 469.0h-14M126.3 588.5h-14" stroke="#404040" stroke-width="1.7" fill="none"/>
<text x="157.5" y="712" font-size="22.3" text-anchor="middle" fill="#2b2b2b">0.1</text>
<text x="305.2" y="712" font-size="22.3" text-anchor="middle" fill="#2b2b2b">0.2</text>
<text x="452.9" y="712" font-size="22.3" text-anchor="middle" fill="#2b2b2b">0.3</text>
<text x="600.6" y="712" font-size="22.3" text-anchor="middle" fill="#2b2b2b">0.4</text>
<text x="748.3" y="712" font-size="22.3" text-anchor="middle" fill="#2b2b2b">0.5</text>
<text transform="translate(94.3,112.0) rotate(-90)" font-size="23.6" text-anchor="middle" fill="#2b2b2b">0.20</text>
<text transform="translate(94.3,231.5) rotate(-90)" font-size="23.6" text-anchor="middle" fill="#2b2b2b">0.15</text>
<text transform="translate(94.3,351.0) rotate(-90)" font-size="23.6" text-anchor="middle" fill="#2b2b2b">0.10</text>
<text transform="translate(94.3,470.5) rotate(-90)" font-size="23.6" text-anchor="middle" fill="#2b2b2b">0.05</text>
<text transform="translate(94.3,590.0) rotate(-90)" font-size="23.6" text-anchor="middle" fill="#2b2b2b">0.00</text>
<text transform="translate(39.8,372.3) rotate(-90)" font-size="23.6" text-anchor="middle" fill="#2b2b2b">Fst</text>
<text x="449.2" y="768" font-size="22.7" text-anchor="middle" fill="#2b2b2b">Heterozygosity</text>
</g>
<text x="348.1" y="50" font-size="31.6" text-anchor="middle" fill="#111">OutFLANK</text>
<text x="1129.4" y="35.3" font-size="31.3" text-anchor="middle" fill="#111">pcadapt</text>
<text transform="translate(62.5,37.3) scale(1,1)" font-size="32.8" font-weight="bold" text-anchor="middle" fill="#000">A</text>
<text transform="translate(798.3,37.3) scale(0.83,1)" font-size="32.8" font-weight="bold" text-anchor="middle" fill="#000">B</text>
<g id="panelB">
<rect x="838.2" y="80.0" width="605.8" height="614.2" fill="#e9e9e9"/>
<path d="M954.8 80.0V694.2M1133.9 80.0V694.2M1313.0 80.0V694.2M838.2 594.5H1444.0M838.2 450.0H1444.0M838.2 305.6H1444.0M838.2 161.1H1444.0" stroke="#f3f3f3" stroke-width="1.1" fill="none"/>
<path d="M865.3 80.0V694.2M1044.4 80.0V694.2M1223.5 80.0V694.2M1402.6 80.0V694.2M838.2 666.7H1444.0M838.2 522.2H1444.0M838.2 377.8H1444.0M838.2 233.4H1444.0M838.2 88.9H1444.0" stroke="#f8f8f8" stroke-width="1.5" fill="none"/>
<rect x="866" y="651" width="551" height="19.5" fill="#000"/>
<path stroke="#000" stroke-width="7" stroke-linecap="round" fill="none" d="M918.0 580.5h0M922.1 587.0h0M923.7 592.6h0M902.0 589.0h0M905.6 600.6h0M926.9 612.1h0M908.8 621.4h0M911.5 621.6h0M910.9 630.6h0M902.0 635.1h0M875.7 609.8h0M881.6 610.7h0M874.5 616.9h0M870.9 626.2h0M868.2 634.7h0M894.9 623.7h0M889.6 626.7h0M883.9 628.5h0M881.2 636.5h0M881.6 641.8h0M980.3 575.5h0M973.2 584.9h0M961.1 622.3h0M955.9 631.2h0M955.4 639.2h0M959.8 643.6h0M986.0 615.5h0M999.0 608.6h0M998.1 615.5h0M1010.2 596.8h0M1024.2 576.9h0M1037.6 560.9h0M1054.1 569.8h0M1066.6 570.1h0M1042.2 589.0h0M1043.8 610.7h0M1050.9 617.8h0M1050.9 632.0h0M1062.1 627.6h0M1062.5 631.5h0M1071.9 629.9h0M1087.6 616.0h0M1095.9 602.2h0M1095.9 606.6h0M1029.7 625.8h0M1033.7 628.1h0M1023.3 631.7h0M1030.6 637.4h0M1007.9 632.9h0M999.5 632.9h0M985.3 636.8h0M976.7 637.4h0M918.0 638.8h0M929.1 637.7h0M941.2 638.8h0M911.8 642.7h0M1071.5 639.2h0M1082.6 637.7h0M1099.5 634.7h0M1039.0 639.2h0M1052.3 641.8h0M1087.9 642.7h0M1001.6 639.2h0M994.5 642.2h0M1017.7 642.2h0M946.1 418.0h0M1056.6 404.0h0M1091.4 458.5h0M882.9 505.4h0M940.6 512.6h0M999.7 496.0h0M999.7 502.5h0M1015.8 502.0h0M1034.3 510.4h0M1045.1 517.4h0M1105.8 498.9h0M1096.2 527.0h0M1102.7 530.1h0M894.4 533.7h0M894.0 544.8h0M973.2 534.9h0M1021.0 537.3h0M1017.4 556.1h0M1037.9 559.7h0M1119.5 568.6h0M1255.7 443.2h0M1257.3 461.2h0M1316.2 447.3h0M1171.3 482.1h0M1128.8 485.7h0M1140.4 491.7h0M1186.0 505.4h0M1183.6 512.8h0M1283.8 495.3h0M1150.9 536.6h0M1244.1 528.9h0M1285.0 528.9h0M1199.7 549.6h0M1222.5 553.9h0M1236.2 558.2h0M1244.1 546.2h0M1315.0 560.2h0M1381.0 548.1h0M1147.1 588.3h0M1143.6 603.6h0M1122.2 607.1h0M1151.0 621.2h0M1188.7 582.0h0M1195.9 590.9h0M1184.3 599.5h0M1215.4 604.4h0M1217.7 614.6h0M1258.3 577.8h0M1269.7 582.0h0M1251.0 603.0h0M1294.8 586.7h0M1325.9 596.4h0M1309.3 606.0h0M1348.3 585.2h0M1327.1 617.6h0M1327.1 631.1h0M1336.9 639.1h0M1348.5 634.7h0M1355.6 629.3h0M1173.3 619.4h0M1180.4 619.4h0M1169.4 626.5h0M1175.9 627.9h0M1181.3 626.1h0M1188.4 631.5h0M1169.4 635.9h0M1198.2 633.8h0M1222.2 626.5h0M1227.5 629.7h0M1236.8 629.7h0M1242.3 619.9h0M1256.0 621.7h0M1261.3 624.7h0M1271.1 619.0h0M1280.0 626.1h0M1289.8 620.8h0M1299.6 627.9h0M1309.9 631.8h0M1304.0 637.2h0M1285.3 634.2h0M1271.1 632.4h0M1246.2 634.2h0M1251.5 635.9h0M1257.8 637.2h0M1100.0 634.2h0M1121.7 632.4h0M1128.4 632.7h0M1146.6 634.2h0M1105.7 638.6h0M1119.0 637.7h0M1132.4 640.4h0M1142.1 641.3h0M1154.6 638.6h0M1173.3 640.4h0M1183.9 641.3h0M1190.2 641.3h0M1201.7 639.5h0M1208.8 639.5h0M1216.0 638.6h0M1232.0 641.3h0M1265.8 638.6h0M1323.6 639.5h0M1220.0 107.8h0M1216.3 244.4h0M1357.1 267.2h0M1390.7 485.7h0M1416.1 168.2h0M1416.1 188.6h0M1416.3 227.3h0M1416.1 231.4h0M1416.1 250.0h0M1416.1 255.0h0M1415.0 265.5h0M1416.5 275.0h0M1417.3 278.4h0M1416.0 295.5h0M1416.0 301.1h0M1416.3 308.0h0M1416.3 311.4h0M1416.1 352.7h0M1416.1 372.7h0M1415.7 381.1h0M1415.7 384.5h0M1416.1 403.9h0M1416.1 409.5h0M1416.3 422.0h0M1415.4 441.2h0M1418.0 441.8h0M1416.8 463.6h0M1416.1 476.6h0M1416.1 481.8h0M1415.2 509.9h0M1417.3 508.6h0M1415.9 522.8h0M1415.6 541.7h0M1415.9 550.1h0M1376.7 575.1h0M1361.5 577.6h0M1381.2 587.2h0M1387.5 586.7h0M1409.5 603.7h0M1398.2 623.4h0M1398.2 636.5h0M1415.1 637.8h0M1369.8 625.2h0M1369.8 631.5h0M1356.4 629.7h0M1363.5 632.7h0M1377.9 631.5h0M1348.1 634.5h0M1360.2 638.6h0M1375.4 638.6h0M1385.0 638.6h0M1391.8 641.1h0M1345.0 644.0h0M1365.3 644.0h0M883.1 649.8h0M999.4 647.7h0M1259.5 647.7h0M1159.0 648.3h0M936.1 649.6h0M1027.4 649.9h0M1273.3 650.1h0M1045.3 649.9h0M1342.1 648.7h0M1130.8 649.6h0M1373.8 645.5h0M1113.8 649.0h0M1341.2 650.0h0M1008.5 650.3h0M1142.6 647.9h0M952.3 649.5h0M1411.8 649.3h0M1076.7 647.2h0M1357.6 649.7h0M934.1 648.7h0M1274.0 645.9h0M1229.7 649.8h0M1149.7 649.9h0M1111.7 649.4h0M1368.6 646.2h0M1376.4 649.3h0M1397.4 650.2h0M1373.5 648.7h0M1346.7 649.5h0M1412.0 650.5h0M1333.2 647.4h0M1072.2 647.3h0M983.7 648.0h0M1124.1 649.5h0M974.3 647.6h0M1268.7 650.3h0M1404.9 650.0h0M1072.8 649.5h0M1183.7 646.5h0M1386.8 648.7h0M1067.4 650.3h0M903.9 649.2h0M1187.4 649.4h0M1407.3 649.5h0M1059.4 649.5h0M960.6 645.5h0M1191.6 649.1h0M1100.6 650.0h0M1039.8 649.3h0M1111.9 643.5h0M1176.3 650.1h0M895.6 650.2h0M1056.5 647.8h0M1356.0 650.0h0M1295.9 649.5h0M1162.2 649.1h0M889.4 650.4h0M1233.8 648.4h0M1075.6 646.0h0M1317.8 649.9h0M902.9 649.0h0M1226.5 650.0h0M890.2 649.3h0M884.8 648.1h0M1210.7 649.9h0M1111.6 650.0h0M968.4 650.1h0M1315.4 649.4h0M1260.2 649.7h0M1310.6 648.9h0M1226.4 649.6h0M1175.6 650.1h0M1402.5 648.5h0M1159.4 648.7h0M921.2 649.8h0M993.1 647.2h0M873.1 649.4h0M1344.6 647.8h0M1262.1 649.9h0M994.0 648.3h0M1030.6 648.2h0M1058.8 647.9h0M1181.7 647.5h0M1409.1 649.6h0M1409.6 650.5h0M1349.4 650.4h0M1166.4 649.6h0M1290.2 649.8h0M980.7 647.7h0M1169.2 648.0h0M1135.6 650.4h0M1290.9 650.1h0M1126.0 650.5h0M1008.7 648.5h0M1287.1 648.7h0M1110.2 648.1h0M1234.6 650.1h0M1160.9 648.9h0M1267.6 650.1h0M1037.2 649.7h0M918.9 649.7h0M1268.0 648.9h0M961.3 648.1h0M930.3 648.0h0M947.4 650.3h0M1004.7 649.2h0M1014.8 646.6h0M1383.0 649.9h0M1279.2 648.4h0M1175.2 650.0h0M1389.2 644.9h0M873.2 649.8h0M1042.9 650.1h0M1103.1 646.4h0M879.2 647.2h0M1036.2 650.5h0M1361.7 649.9h0M982.9 650.3h0M1068.3 650.3h0M965.0 650.0h0M1184.7 649.4h0M1034.1 649.2h0M1292.5 648.2h0M1055.3 646.0h0M1302.0 649.0h0M1128.0 649.8h0M939.9 646.6h0M1201.2 650.3h0M1376.0 646.6h0M884.5 648.3h0M997.2 649.1h0M1325.6 649.7h0M1140.6 648.5h0M972.0 648.7h0M1100.3 643.2h0M969.4 648.3h0M888.7 649.9h0M930.9 650.2h0M1157.1 650.2h0M1303.9 650.3h0M1209.3 646.9h0M935.7 650.1h0M1287.5 649.4h0M1379.6 649.8h0M1085.3 644.8h0M1055.5 644.4h0M1356.9 650.1h0M1166.7 645.4h0M930.7 647.1h0M1292.6 648.0h0M1197.0 650.3h0M1394.1 650.3h0M1297.7 648.2h0M1040.9 648.4h0M1092.2 648.0h0M889.9 645.6h0M1077.8 647.6h0M1125.8 647.5h0M1031.9 649.1h0M879.9 649.3h0M909.6 647.0h0M1239.2 649.5h0M1402.8 645.2h0M1393.2 650.3h0M1254.0 648.2h0M1199.9 650.5h0M1375.1 649.5h0M1193.9 647.5h0M1017.6 650.4h0M1374.8 649.9h0M888.7 650.2h0M1414.1 648.1h0M981.7 650.2h0M1360.6 648.5h0M1187.2 650.2h0M1093.7 645.2h0M867.8 649.5h0M923.5 645.0h0M1329.5 648.1h0M889.3 648.4h0M1137.6 649.3h0M946.0 649.2h0M1307.9 650.2h0M1348.7 649.5h0M1012.6 650.0h0M1119.3 648.6h0M1180.0 646.5h0M1147.8 649.2h0M1410.9 650.1h0M875.1 649.8h0M1038.6 650.3h0M1096.4 650.4h0M1373.4 649.3h0M1350.2 648.3h0M1268.1 647.9h0M1032.2 648.1h0M979.5 649.0h0M1194.0 647.8h0M958.4 649.7h0M1320.2 647.6h0M1404.8 650.3h0M981.8 650.3h0M1264.8 648.0h0M1223.1 647.8h0M1150.3 649.0h0M1373.5 648.6h0M1227.5 648.9h0M1138.1 648.0h0M1181.5 650.3h0M1100.6 649.5h0M1104.2 649.0h0M1065.3 649.6h0M1101.2 649.7h0M1401.5 650.3h0M875.3 648.2h0M1083.8 649.4h0M1192.1 649.7h0M997.8 650.5h0M1347.5 645.5h0M1023.5 649.4h0M1044.4 650.4h0M1357.9 647.2h0M998.8 650.0h0M1250.7 647.6h0M1124.8 649.6h0M994.7 647.6h0M1341.8 647.0h0M929.0 648.9h0M1408.8 648.2h0M1119.0 650.2h0M899.3 648.1h0M903.8 647.5h0M1232.8 649.3h0M1357.3 645.6h0M1205.7 650.3h0M1190.3 649.5h0M1003.5 645.7h0M1268.4 650.3h0M992.1 649.7h0M1181.7 649.8h0M1108.2 647.5h0M966.2 648.2h0M1048.2 645.3h0M1390.4 649.8h0M1199.9 650.3h0M1092.1 648.7h0M1217.6 649.7h0M884.7 650.3h0M1174.8 650.2h0M1034.7 648.8h0M1362.3 649.2h0M1006.3 648.9h0M1017.9 647.8h0M952.0 650.0h0M1107.7 646.2h0M957.1 650.1h0M938.6 650.1h0M1049.1 649.6h0M1284.6 649.6h0M1127.8 649.6h0M1292.6 646.3h0M1100.4 645.9h0M1004.1 643.6h0M1155.5 648.4h0M1076.1 649.9h0M940.5 646.6h0M1064.1 648.3h0M1119.9 649.2h0M980.0 650.1h0M1051.3 648.4h0M1165.4 650.5h0M1257.6 649.5h0M904.0 650.0h0M982.6 647.4h0M1169.1 649.8h0M1003.0 649.9h0M1020.3 649.7h0M1301.7 647.7h0M1250.7 646.6h0M1226.3 650.3h0M890.5 650.2h0M1008.2 649.1h0M1319.0 648.9h0M1102.8 650.0h0M1406.9 648.0h0M1054.0 650.4h0M1407.0 650.0h0M1333.1 650.3h0M1225.8 649.7h0M1355.8 649.9h0M921.5 650.1h0M1309.9 643.6h0M1220.3 648.4h0M1021.4 649.9h0M913.8 643.0h0M889.9 648.8h0M1058.8 650.1h0M1106.2 645.7h0M1002.5 650.2h0M1212.8 648.6h0M1147.4 650.1h0M1347.7 650.3h0M961.9 650.0h0M1149.1 649.3h0M1171.0 648.2h0M1358.6 649.4h0M889.1 647.3h0M876.2 649.8h0M944.8 648.8h0M1296.8 650.3h0M1028.2 647.1h0M1245.7 650.3h0M1244.2 647.7h0M1091.1 650.2h0M1229.1 649.8h0M939.7 650.2h0M1087.8 650.3h0M1078.2 649.1h0M1170.2 649.6h0M1306.9 650.3h0M1047.7 645.6h0M1342.2 645.9h0M1287.7 649.1h0M1299.9 649.0h0M930.8 650.0h0M919.7 646.8h0M1043.4 649.6h0M1162.6 650.3h0M1254.9 647.6h0M1304.7 646.7h0M1040.8 650.2h0M1285.6 648.4h0M1070.7 649.7h0M950.7 647.3h0M1119.8 647.5h0M1053.2 649.8h0M1148.8 648.0h0M1352.4 649.7h0M1248.1 649.6h0M1340.7 647.9h0M1172.0 649.7h0M1016.8 646.6h0M1307.3 649.8h0M912.7 650.1h0M1397.3 650.4h0M1312.3 649.1h0M1171.2 649.1h0M1092.1 649.0h0M915.6 646.0h0M922.7 650.2h0M1236.6 648.7h0M1310.5 648.4h0M1378.8 650.4h0M871.9 650.0h0M1295.2 650.2h0M1158.7 647.9h0M952.1 649.2h0M1362.3 648.0h0M1085.3 649.3h0M1019.1 644.7h0M1297.2 648.4h0M1033.6 648.1h0M1134.2 647.6h0M1066.5 646.7h0M1243.2 649.4h0M1176.1 647.6h0M1157.6 644.7h0M870.0 646.4h0M1259.5 649.3h0M1334.3 650.2h0M1052.0 648.2h0M1319.7 649.7h0M1413.8 648.6h0M891.0 650.3h0M908.1 649.0h0M1043.4 650.0h0M1112.6 650.4h0M1366.8 647.2h0M1173.8 649.4h0M1035.9 648.8h0M1057.1 643.8h0M1392.8 648.2h0M1321.1 650.4h0M934.1 649.7h0M935.5 649.5h0M1409.3 647.3h0M1394.3 650.0h0M988.2 650.5h0M1016.8 650.4h0M1157.0 649.9h0M1237.2 649.0h0M1195.1 649.9h0M1270.9 648.4h0M1259.6 649.4h0M1121.6 649.9h0M888.1 649.4h0M1205.5 650.1h0M1339.9 646.7h0M1336.3 647.5h0M1135.1 650.2h0M1015.4 648.1h0M1408.5 650.3h0M869.4 649.7h0M1058.4 648.9h0M927.9 647.2h0M1052.3 646.2h0M1047.4 649.8h0M962.9 644.4h0M1190.8 647.4h0M900.7 649.1h0M1269.9 643.1h0M1382.1 650.3h0M1160.7 644.8h0M1005.7 650.5h0M1387.4 649.9h0M1174.9 649.7h0M1184.2 645.6h0M1387.7 646.7h0M1007.5 647.4h0M876.1 649.5h0M1386.2 650.0h0M1068.3 648.9h0M996.4 648.3h0M1225.5 650.3h0M1373.0 650.4h0M1249.8 649.7h0M945.1 650.4h0M1415.8 647.6h0M1118.8 647.7h0M1400.4 645.8h0M1159.4 649.9h0M1151.7 643.3h0M1268.4 648.5h0M1330.5 649.6h0M1174.0 647.1h0M975.7 647.0h0M879.6 649.1h0M1182.7 650.2h0M1374.0 649.5h0M968.0 649.5h0M1191.9 649.5h0M867.6 650.3h0M1259.0 650.2h0M1006.8 647.5h0M1340.8 646.7h0M962.1 650.5h0M1281.6 648.9h0M1066.8 650.5h0M1103.8 650.0h0M1190.0 643.4h0M981.4 650.4h0M1248.7 650.3h0M988.8 649.5h0M1409.3 649.8h0M1040.0 649.3h0M955.4 649.6h0M1251.9 649.8h0M1304.8 650.1h0M921.9 648.7h0M1115.6 646.0h0M923.9 648.0h0M1235.1 649.7h0M936.7 648.8h0M1283.8 649.3h0M1126.3 648.4h0M1201.8 649.5h0M968.5 649.4h0M1169.0 646.4h0M1414.1 649.0h0M1047.0 650.0h0M1213.4 648.1h0M1002.5 648.4h0M1416.6 649.6h0M1383.3 649.5h0M1225.4 646.9h0M978.0 649.7h0M1408.2 650.4h0M1034.7 649.3h0M1276.4 648.7h0M1378.3 648.5h0M866.8 650.4h0M886.2 649.5h0M880.9 649.2h0M1214.6 650.1h0M1337.7 649.5h0M1394.9 649.7h0M1207.6 649.1h0M1010.9 647.8h0M868.2 650.0h0M1042.7 646.7h0M1141.8 650.4h0M1030.8 648.8h0M1311.7 650.3h0M1295.4 649.6h0M1154.8 649.5h0M1372.4 646.0h0M1271.4 648.3h0M944.0 650.4h0M1323.8 648.5h0M1213.5 649.8h0M1013.2 645.9h0M1159.2 650.5h0M1053.6 649.7h0M903.3 643.6h0M1363.5 647.5h0M868.3 649.5h0M927.5 648.2h0M1312.0 647.7h0M1302.2 650.3h0M873.4 650.3h0M1330.1 647.3h0M1150.4 650.0h0M1338.2 650.3h0M1045.0 650.5h0M1407.6 649.5h0M1290.9 647.6h0M1186.1 642.7h0M1293.5 650.0h0M1293.7 648.0h0M1301.1 643.2h0M902.7 639.8h0M906.3 645.6h0M902.8 646.7h0M902.3 646.7h0M1122.3 645.7h0M1108.3 647.4h0M1117.3 644.7h0M1115.1 648.7h0M1037.3 643.9h0M1037.7 642.9h0M1039.3 644.5h0M1348.2 642.9h0M1352.5 645.2h0M1345.2 647.9h0M1348.8 646.9h0M1355.3 645.1h0M1351.4 647.5h0M1348.7 642.4h0M1359.0 641.6h0M1363.1 645.6h0M1362.0 650.0h0M1364.6 646.6h0M1369.5 646.4h0M1363.7 646.0h0M1363.0 645.4h0M1011.2 639.7h0M1002.2 642.5h0M1013.0 646.0h0M1012.6 643.9h0M1143.9 644.0h0M1153.5 644.8h0M1144.6 642.4h0M1135.3 646.6h0M1147.5 646.5h0M1143.0 642.9h0M1149.5 642.6h0M1229.9 647.2h0M1232.6 645.0h0M1231.2 641.3h0M1244.0 644.3h0M1238.3 648.1h0M1238.9 648.5h0M1233.1 650.0h0M1405.9 643.8h0M1397.1 643.1h0M1401.4 643.1h0M1397.2 644.5h0M942.4 638.8h0M940.6 644.1h0M943.1 642.4h0M946.2 644.1h0M910.1 643.8h0M917.6 645.1h0M911.5 643.8h0M915.0 647.3h0M910.6 643.5h0M1294.4 637.7h0M1294.0 640.7h0M1286.6 640.6h0M1288.7 648.0h0M1294.7 646.0h0M1284.5 647.9h0M1288.2 644.6h0M1030.1 641.0h0M1039.9 644.2h0M1039.1 644.4h0M1032.5 640.8h0M1249.7 647.1h0M1248.4 645.0h0M1251.2 649.2h0M1253.8 646.1h0M1254.1 643.2h0M1255.0 646.0h0M1136.8 636.2h0M1132.8 640.7h0M1137.6 640.9h0M1134.0 639.2h0M919.8 643.1h0M911.4 644.4h0M916.2 644.6h0M918.9 645.8h0M1074.2 647.1h0M1067.2 641.9h0M1071.5 648.2h0M1067.1 645.7h0M1063.3 643.1h0M1084.6 650.0h0M1180.6 644.7h0M1185.8 646.2h0M1178.7 646.0h0M1174.0 649.0h0M1181.2 647.0h0M1403.4 637.8h0M1401.3 646.3h0M1398.4 642.4h0M1404.9 647.3h0M926.1 639.6h0M924.9 643.1h0M928.7 647.1h0M925.3 646.7h0M1348.2 647.5h0M1344.5 644.4h0M1354.2 645.1h0M1338.8 645.1h0M1338.4 641.5h0M1342.3 649.1h0M1346.9 650.0h0M952.6 639.4h0M958.6 645.2h0M959.4 645.7h0M955.2 644.4h0M1018.5 650.0h0M1026.5 650.0h0M1025.7 645.6h0M1285.3 647.6h0M1282.0 648.6h0M1276.5 648.6h0M1277.1 646.3h0M968.8 647.0h0M972.6 647.1h0M973.1 637.9h0M977.5 644.3h0M969.8 643.5h0M969.3 644.3h0M1084.7 650.0h0M1078.5 648.4h0M1080.4 644.8h0M1072.1 647.7h0M1082.9 649.8h0M917.7 646.7h0M907.6 640.1h0M914.8 650.0h0M922.2 648.1h0M911.5 644.9h0M1416.4 646.7h0M1409.7 647.2h0M1402.8 646.3h0M1392.8 642.8h0M1387.6 643.8h0M1380.0 644.5h0M1386.9 639.5h0M875.7 643.0h0M873.7 647.0h0M874.5 646.2h0M869.5 645.7h0M868.8 645.5h0M876.2 643.4h0M875.2 650.0h0M911.4 643.0h0M901.7 637.9h0M905.7 643.9h0M1185.7 645.8h0M1182.9 645.7h0M1184.4 641.2h0M1178.0 648.2h0M1186.7 645.4h0M1186.3 644.7h0M1343.9 644.8h0M1342.7 646.1h0M1336.0 643.5h0M1345.4 643.3h0M1339.1 644.2h0M1337.3 646.3h0M1208.1 645.3h0M1197.8 644.9h0M1203.4 642.9h0M1207.8 644.4h0M1205.7 647.7h0M1176.0 646.7h0M1180.9 650.0h0M1180.7 648.5h0M1179.0 650.0h0M1190.7 644.6h0M1180.9 648.0h0M1179.2 645.2h0M1006.7 647.5h0M1001.6 640.2h0M1005.4 642.7h0M1007.9 638.5h0M1004.6 642.7h0M1012.2 647.5h0M1176.7 642.6h0M1168.9 640.0h0M1170.8 644.9h0M1058.2 645.8h0M1068.5 637.2h0M1062.1 641.3h0M1054.7 643.3h0M1060.4 646.6h0M1059.3 647.3h0M1067.1 643.5h0M924.3 640.7h0M927.2 645.7h0M924.5 646.4h0M926.6 650.0h0M924.1 649.4h0M933.0 645.0h0M922.3 646.1h0M1022.0 645.0h0M1020.0 640.9h0M1020.8 646.8h0M1018.7 646.9h0M1015.5 645.1h0M1022.0 647.5h0M1013.7 648.0h0M899.6 642.0h0M901.8 647.3h0M898.3 649.1h0M892.9 645.2h0M901.5 650.0h0M891.7 647.9h0M904.0 650.0h0M1229.2 650.0h0M1222.0 649.5h0M1233.0 649.1h0M1233.5 645.2h0M1220.6 644.1h0M1222.0 646.1h0M1326.8 645.4h0M1323.5 644.8h0M1317.3 648.4h0M1322.5 642.1h0M1348.0 644.2h0M1349.4 646.6h0M1340.0 645.5h0M1347.2 643.4h0M1341.9 639.9h0M1056.7 647.8h0M1056.5 648.7h0M1052.1 650.0h0M1056.9 644.4h0M1373.5 643.4h0M1372.9 646.5h0M1377.9 640.6h0M1371.4 640.2h0M1367.8 646.7h0M1375.4 642.6h0M1368.5 643.5h0M1231.7 644.5h0M1225.0 634.0h0M1223.6 641.3h0M1049.0 647.8h0M1041.0 650.0h0M1032.0 647.0h0M1037.1 644.6h0M1035.3 647.5h0M1037.8 642.6h0M1046.3 646.4h0M1060.3 645.0h0M1047.0 648.1h0M1048.0 646.7h0M1045.1 649.6h0M1089.6 648.6h0M1078.0 642.4h0M1078.3 643.5h0M1063.8 643.3h0M1085.7 648.1h0M1082.8 649.6h0M1081.7 649.9h0M1360.1 650.0h0M1356.7 649.2h0M1364.0 649.6h0M1254.9 644.9h0M1255.6 640.1h0M1246.2 645.5h0M1260.1 645.2h0M1263.1 641.4h0M1265.9 647.0h0M1254.7 645.9h0M1164.5 639.6h0M1165.6 642.4h0M1158.3 639.1h0M1156.9 641.5h0M1161.9 644.3h0M1163.1 644.2h0M978.0 646.7h0M961.3 647.7h0M971.0 642.1h0M961.9 646.0h0M970.3 647.1h0M1138.0 646.2h0M1145.5 643.0h0M1141.9 644.6h0M1141.4 650.0h0M1134.1 649.0h0M1141.2 645.0h0M1140.4 647.2h0M944.0 646.5h0M938.7 649.2h0M943.8 647.7h0M937.4 647.4h0M942.3 644.7h0M943.6 646.0h0M944.2 648.6h0M1238.2 649.1h0M1227.7 640.3h0M1237.5 644.2h0M1240.2 644.4h0M981.8 646.2h0M992.0 649.6h0M976.8 646.3h0M987.1 643.8h0M984.6 646.4h0M985.7 646.4h0M982.4 638.5h0M1166.0 638.2h0M1167.8 641.8h0M1166.7 641.7h0M1166.7 649.9h0M1162.2 642.3h0M1167.0 644.1h0M1160.7 649.2h0M1070.2 644.1h0M1081.7 649.4h0M1074.7 649.0h0M1080.6 641.9h0M1086.7 647.0h0M1078.9 648.4h0M1076.2 644.3h0M1102.6 648.3h0M1093.2 648.0h0M1086.3 647.8h0M1127.5 644.6h0M1116.6 639.6h0M1120.2 644.9h0M1117.3 641.6h0M1116.2 646.7h0M1115.3 643.0h0M1010.5 649.8h0M1005.7 649.3h0M1004.9 650.0h0M1111.7 642.8h0M1115.5 645.2h0M1116.8 647.7h0M1121.3 648.9h0M1121.2 649.4h0M1118.7 644.9h0M1277.5 646.4h0M1284.2 643.4h0M1281.5 648.4h0M1281.2 646.9h0M1270.9 645.1h0M1280.8 642.7h0M921.9 646.1h0M918.5 639.8h0M918.6 646.3h0M912.6 645.1h0M921.9 639.9h0M970.8 646.3h0M975.5 640.0h0M971.2 643.9h0M976.6 639.9h0M973.2 641.6h0M965.4 647.2h0M968.1 644.6h0M1058.1 648.6h0M1060.1 648.5h0M1066.1 649.8h0M1058.7 646.0h0M1064.2 646.4h0M961.4 639.4h0M968.7 647.2h0M964.9 647.8h0M959.9 645.2h0M961.6 638.8h0M971.6 646.1h0M1148.5 643.4h0M1158.2 647.4h0M1161.3 644.1h0M1339.2 645.8h0M1339.9 643.7h0M1343.8 642.3h0M1232.0 647.8h0M1225.2 642.8h0M1228.5 646.4h0M1229.3 643.9h0M916.2 648.7h0M909.9 647.7h0M911.3 645.6h0M1125.9 637.4h0M1123.1 645.3h0M1120.6 649.4h0M1178.5 645.7h0M1172.2 645.0h0M1176.5 646.4h0M1184.0 641.1h0M1065.9 640.7h0M1073.2 644.8h0M1070.2 640.9h0M1065.0 643.2h0M1073.4 643.1h0M880.5 645.9h0M878.9 649.2h0M875.9 641.6h0M878.6 647.5h0M874.9 649.5h0M878.9 644.4h0M880.0 642.3h0M1282.5 642.0h0M1273.7 646.8h0M1269.1 644.7h0M1273.8 645.5h0M1269.7 642.8h0M1162.8 647.3h0M1177.9 643.5h0M1164.1 648.5h0M1174.9 649.6h0M1006.7 641.2h0M990.9 649.8h0M1003.1 650.0h0M997.9 646.5h0M1084.3 638.8h0M1087.0 643.7h0M1090.0 644.1h0M1089.9 648.6h0M1091.9 646.6h0M1085.0 647.2h0M1088.5 642.9h0M902.1 644.4h0M895.5 645.5h0M900.6 645.5h0M901.4 646.4h0M906.6 637.8h0M901.3 640.1h0M930.8 641.6h0M924.5 643.8h0M923.7 639.5h0M922.7 642.6h0M921.5 645.5h0M1260.3 639.1h0M1265.6 642.0h0M1270.2 640.7h0M1174.3 644.2h0M1174.4 642.0h0M1172.1 642.2h0M1171.1 643.2h0M1271.5 646.4h0M1271.0 644.0h0M1269.9 645.4h0M1272.1 650.0h0M1262.6 650.0h0M1267.4 650.0h0M1276.9 650.0h0M1376.0 645.1h0M1367.6 645.3h0M1369.7 645.9h0M1349.2 645.0h0M1340.8 647.2h0M1348.4 643.6h0M1343.3 648.7h0M1346.8 645.0h0M1354.1 645.9h0M877.0 650.0h0M880.5 646.8h0M884.2 647.2h0M879.2 649.2h0M880.1 643.1h0M880.8 648.0h0M880.6 646.6h0M938.4 647.8h0M930.8 645.2h0M944.2 641.5h0M936.9 643.8h0M935.4 644.9h0M932.4 647.0h0M936.8 644.2h0M1217.4 642.4h0M1220.8 641.5h0M1215.7 645.9h0M1214.5 641.9h0M1223.8 648.5h0M1288.2 641.7h0M1291.3 643.3h0M1300.4 646.3h0M1293.6 642.7h0M1285.3 642.8h0M1296.9 647.3h0M1285.6 644.1h0M899.7 649.9h0M896.7 648.3h0M905.7 649.0h0M907.2 646.5h0M903.5 645.2h0M903.2 650.0h0M1076.5 648.4h0M1070.1 648.9h0M1065.5 649.8h0M1073.5 645.7h0M1066.8 647.3h0M866.3 653.0h0M866.3 657.0h0M866.3 661.0h0M866.3 665.0h0M866.3 666.7h0M1417.2 653.0h0M1417.2 657.0h0M1417.2 661.0h0M1417.2 665.0h0M1417.2 666.5h0"/>
<path d="M838.7 650.6H1444.0" stroke="#f00808" stroke-width="3.2" fill="none"/>
<path d="M865.3 694.2v4.2M1044.4 694.2v4.2M1223.5 694.2v4.2M1402.6 694.2v4.2M838.2 666.7h-3.6M838.2 522.2h-3.6M838.2 377.8h-3.6M838.2 233.4h-3.6M838.2 88.9h-3.6" stroke="#4d4d4d" stroke-width="1.3" fill="none"/>
<text x="865.3" y="712.6" font-size="13.6" text-anchor="middle" fill="#666">0</text>
<text x="1044.4" y="712.6" font-size="13.6" text-anchor="middle" fill="#666">5000</text>
<text x="1223.5" y="712.6" font-size="13.6" text-anchor="middle" fill="#666">10000</text>
<text x="1402.6" y="712.6" font-size="13.6" text-anchor="middle" fill="#666">15000</text>
<text x="829.6" y="672.1" font-size="13.4" text-anchor="end" fill="#666">0</text>
<text x="829.6" y="527.6" font-size="13.4" text-anchor="end" fill="#666">50</text>
<text x="829.6" y="383.2" font-size="13.4" text-anchor="end" fill="#666">100</text>
<text x="829.6" y="238.8" font-size="13.4" text-anchor="end" fill="#666">150</text>
<text x="829.6" y="94.3" font-size="13.4" text-anchor="end" fill="#666">200</text>
<text x="838" y="67.2" font-size="20.4" fill="#333">Manhattan Plot</text>
<text x="1141.5" y="733.6" font-size="17" text-anchor="middle" fill="#333">SNP (with mAF&gt;0.05)</text>
<text transform="translate(800.3,388) rotate(-90) scale(1.065,1)" font-size="16.8" text-anchor="middle" fill="#333">-log10(p-values)</text>
<path d="M873 127.7H904.4" stroke="#f00808" stroke-width="3.2" fill="none"/>
<text x="914.6" y="133.3" font-size="18.3" fill="#111">FDR &lt; 0.05</text>
</g>
</svg></body></html>
